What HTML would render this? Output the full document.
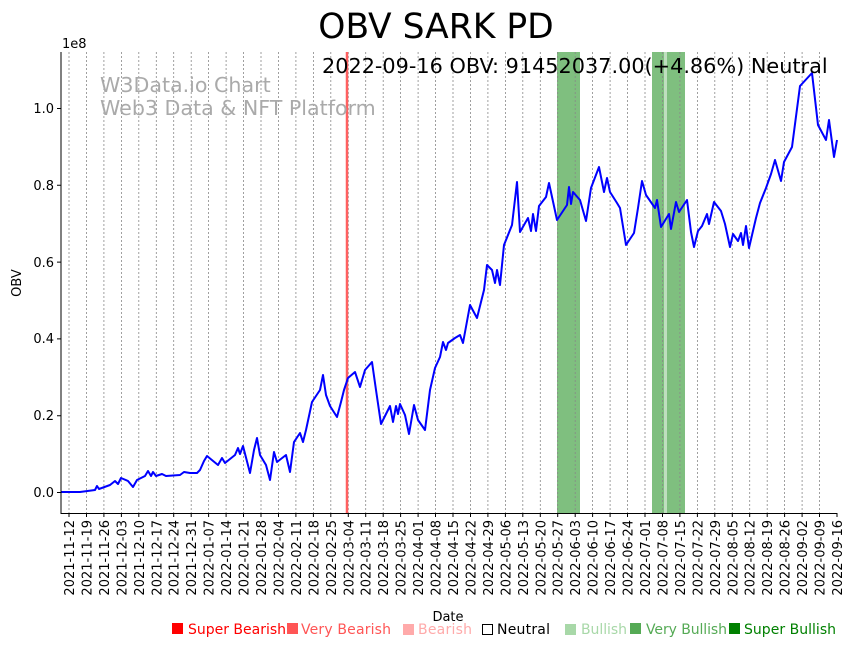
<!DOCTYPE html>
<html><head><meta charset="utf-8"><style>
body{margin:0;background:#fff;width:853px;height:646px;overflow:hidden}
text{font-family:"DejaVu Sans","Liberation Sans",sans-serif}
</style></head><body>
<svg width="853" height="646" viewBox="0 0 853 646" xmlns="http://www.w3.org/2000/svg">
<rect width="853" height="646" fill="#fff"/>
<rect x="557" y="52" width="23" height="461" fill="#008000" opacity="0.5"/>
<rect x="652" y="52" width="12" height="461" fill="#008000" opacity="0.5"/>
<rect x="664" y="52" width="3" height="461" fill="#008000" opacity="0.25"/>
<rect x="667" y="52" width="18" height="461" fill="#008000" opacity="0.5"/>
<g stroke="#888" stroke-width="0.8" stroke-dasharray="2,2">
<path d="M69 52V513M86.5 52V513M103.9 52V513M121.4 52V513M138.8 52V513M156.3 52V513M173.7 52V513M191.2 52V513M208.6 52V513M226.1 52V513M243.5 52V513M261 52V513M278.5 52V513M295.9 52V513M313.4 52V513M330.8 52V513M348.3 52V513M365.7 52V513M383.2 52V513M400.6 52V513M418.1 52V513M435.5 52V513M453 52V513M470.5 52V513M487.9 52V513M505.4 52V513M522.8 52V513M540.3 52V513M557.7 52V513M575.2 52V513M592.6 52V513M610.1 52V513M627.5 52V513M645 52V513M662.5 52V513M679.9 52V513M697.4 52V513M714.8 52V513M732.3 52V513M749.7 52V513M767.2 52V513M784.6 52V513M802.1 52V513M819.5 52V513"/>
</g>
<line x1="347" y1="52" x2="347" y2="513" stroke="#ff6060" stroke-width="2.5"/>
<text x="100" y="92" font-size="20.6" fill="#aaa">W3Data.io Chart</text>
<text x="100" y="115" font-size="20.6" fill="#aaa">Web3 Data &amp; NFT Platform</text>
<polyline fill="none" stroke="#0000ff" stroke-width="2" stroke-linejoin="round" points="61,492 80,492 95,490 97,486 99,489 110,485 115,481 118,484 121,478 128,481 133,487 137,480 145,476 148,471 151,476 153,472 156,476 162,474 166,476 180,475 184,472 190,473 197,473 200,470 204,461 207,456 218,465 222,458 225,463 235,455 238,448 240,454 243,446 250,473 254,450 257,438 260,455 266,465 270,480 274,452 277,462 286,455 290,472 294,442 300,433 303,442 306,430 312,402 320,390 323,375 326,395 330,406 337,417 341,402 344,390 348,378 355,372 360,387 365,370 372,362 376,390 381,424 390,406 393,422 396,406 398,414 400,404 405,415 409,434 414,405 418,420 425,430 430,390 435,368 440,357 443,342 446,350 448,343 455,338 460,335 463,343 470,305 477,318 484,290 487,265 492,270 495,283 497,270 500,285 504,245 512,225 517,182 520,232 528,218 531,231 533,214 536,231 539,206 546,197 549,183 557,220 567,205 569,187 571,204 573,192 580,200 586,221 591,188 599,167 604,192 607,178 610,192 617,203 620,208 626,245 634,233 638,208 642,181 646,195 655,208 657,200 661,227 669,214 671,229 676,202 679,212 687,200 691,232 694,247 698,231 702,226 707,214 709,224 714,202 721,211 725,224 730,247 733,234 738,241 741,233 743,245 746,226 749,248 756,218 760,203 766,188 771,174 775,160 781,181 784,162 792,147 800,86 812,73 818,125 826,140 829,120 834,157 837,140"/>
<line x1="61" y1="52" x2="61" y2="514" stroke="#000" stroke-width="1"/>
<line x1="60.5" y1="513.5" x2="837" y2="513.5" stroke="#000" stroke-width="1"/>
<g stroke="#000"><path d="M57 492.5H61M57 415.7H61M57 338.9H61M57 262.1H61M57 185.3H61M57 108.5H61"/></g>
<g font-size="13" text-anchor="end" fill="#000">
<text x="54" y="497">0.0</text><text x="54" y="420">0.2</text><text x="54" y="343">0.4</text><text x="54" y="267">0.6</text><text x="54" y="190">0.8</text><text x="54" y="113">1.0</text>
</g>
<text x="62" y="48" font-size="13">1e8</text>
<text x="21" y="283" font-size="13" transform="rotate(-90 21 283)" text-anchor="middle">OBV</text>
<g stroke="#000"><path d="M69 513V517M86.5 513V517M103.9 513V517M121.4 513V517M138.8 513V517M156.3 513V517M173.7 513V517M191.2 513V517M208.6 513V517M226.1 513V517M243.5 513V517M261 513V517M278.5 513V517M295.9 513V517M313.4 513V517M330.8 513V517M348.3 513V517M365.7 513V517M383.2 513V517M400.6 513V517M418.1 513V517M435.5 513V517M453 513V517M470.5 513V517M487.9 513V517M505.4 513V517M522.8 513V517M540.3 513V517M557.7 513V517M575.2 513V517M592.6 513V517M610.1 513V517M627.5 513V517M645 513V517M662.5 513V517M679.9 513V517M697.4 513V517M714.8 513V517M732.3 513V517M749.7 513V517M767.2 513V517M784.6 513V517M802.1 513V517M819.5 513V517M837 513V517"/></g>
<g font-size="13" text-anchor="end" fill="#000">
<text transform="translate(74,520) rotate(-90)">2021-11-12</text>
<text transform="translate(91.5,520) rotate(-90)">2021-11-19</text>
<text transform="translate(108.9,520) rotate(-90)">2021-11-26</text>
<text transform="translate(126.4,520) rotate(-90)">2021-12-03</text>
<text transform="translate(143.8,520) rotate(-90)">2021-12-10</text>
<text transform="translate(161.3,520) rotate(-90)">2021-12-17</text>
<text transform="translate(178.7,520) rotate(-90)">2021-12-24</text>
<text transform="translate(196.2,520) rotate(-90)">2021-12-31</text>
<text transform="translate(213.6,520) rotate(-90)">2022-01-07</text>
<text transform="translate(231.1,520) rotate(-90)">2022-01-14</text>
<text transform="translate(248.5,520) rotate(-90)">2022-01-21</text>
<text transform="translate(266,520) rotate(-90)">2022-01-28</text>
<text transform="translate(283.5,520) rotate(-90)">2022-02-04</text>
<text transform="translate(300.9,520) rotate(-90)">2022-02-11</text>
<text transform="translate(318.4,520) rotate(-90)">2022-02-18</text>
<text transform="translate(335.8,520) rotate(-90)">2022-02-25</text>
<text transform="translate(353.3,520) rotate(-90)">2022-03-04</text>
<text transform="translate(370.7,520) rotate(-90)">2022-03-11</text>
<text transform="translate(388.2,520) rotate(-90)">2022-03-18</text>
<text transform="translate(405.6,520) rotate(-90)">2022-03-25</text>
<text transform="translate(423.1,520) rotate(-90)">2022-04-01</text>
<text transform="translate(440.5,520) rotate(-90)">2022-04-08</text>
<text transform="translate(458,520) rotate(-90)">2022-04-15</text>
<text transform="translate(475.5,520) rotate(-90)">2022-04-22</text>
<text transform="translate(492.9,520) rotate(-90)">2022-04-29</text>
<text transform="translate(510.4,520) rotate(-90)">2022-05-06</text>
<text transform="translate(527.8,520) rotate(-90)">2022-05-13</text>
<text transform="translate(545.3,520) rotate(-90)">2022-05-20</text>
<text transform="translate(562.7,520) rotate(-90)">2022-05-27</text>
<text transform="translate(580.2,520) rotate(-90)">2022-06-03</text>
<text transform="translate(597.6,520) rotate(-90)">2022-06-10</text>
<text transform="translate(615.1,520) rotate(-90)">2022-06-17</text>
<text transform="translate(632.5,520) rotate(-90)">2022-06-24</text>
<text transform="translate(650,520) rotate(-90)">2022-07-01</text>
<text transform="translate(667.5,520) rotate(-90)">2022-07-08</text>
<text transform="translate(684.9,520) rotate(-90)">2022-07-15</text>
<text transform="translate(702.4,520) rotate(-90)">2022-07-22</text>
<text transform="translate(719.8,520) rotate(-90)">2022-07-29</text>
<text transform="translate(737.3,520) rotate(-90)">2022-08-05</text>
<text transform="translate(754.7,520) rotate(-90)">2022-08-12</text>
<text transform="translate(772.2,520) rotate(-90)">2022-08-19</text>
<text transform="translate(789.6,520) rotate(-90)">2022-08-26</text>
<text transform="translate(807.1,520) rotate(-90)">2022-09-02</text>
<text transform="translate(824.5,520) rotate(-90)">2022-09-09</text>
<text transform="translate(842,520) rotate(-90)">2022-09-16</text>
</g>
<text x="448" y="621" font-size="13" text-anchor="middle">Date</text>
<text x="436" y="38" font-size="34.5" text-anchor="middle">OBV SARK PD</text>
<text x="322" y="73" font-size="20.8">2022-09-16 OBV: 91452037.00(+4.86%) Neutral</text>
<g font-size="14">
<rect x="172" y="623" width="11" height="11" fill="#ff0000"/><text x="188" y="634" fill="#ff0000" textLength="98">Super Bearish</text>
<rect x="287" y="623" width="11" height="11" fill="#ff5555"/><text x="301" y="634" fill="#ff5555" textLength="90">Very Bearish</text>
<rect x="403" y="624" width="11" height="11" fill="#ffaaaa"/><text x="418" y="634" fill="#ffaaaa" textLength="54">Bearish</text>
<rect x="482.5" y="624.5" width="10" height="10" fill="none" stroke="#000"/><text x="497" y="634" fill="#000" textLength="53">Neutral</text>
<rect x="565" y="624" width="11" height="11" fill="#a8d8a8"/><text x="581" y="634" fill="#a8d8a8" textLength="46">Bullish</text>
<rect x="630" y="623" width="11" height="11" fill="#55aa55"/><text x="646" y="634" fill="#55aa55" textLength="81">Very Bullish</text>
<rect x="729" y="623" width="11" height="11" fill="#008000"/><text x="744" y="634" fill="#008000" textLength="92">Super Bullish</text>
</g>
</svg>
</body></html>
